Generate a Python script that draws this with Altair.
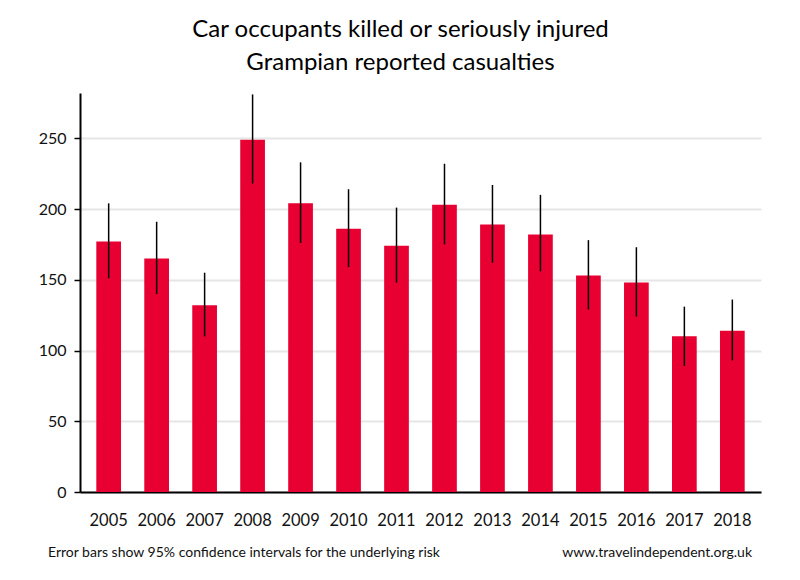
import altair as alt
import pandas as pd

years = ["2005", "2006", "2007", "2008", "2009", "2010", "2011",
         "2012", "2013", "2014", "2015", "2016", "2017", "2018"]
values = [177, 165, 132, 249, 204, 186, 174, 203, 189, 182, 153, 148, 110, 114]
err_low = [151, 140, 110, 218, 176, 159, 148, 175, 162, 156, 129, 124, 89, 93]
err_high = [204, 191, 155, 281, 233, 214, 201, 232, 217, 210, 178, 173, 131, 136]

df = pd.DataFrame({"year": years, "value": values, "lo": err_low, "hi": err_high})

FONT = "Lato"
W, H = 681, 399

x_enc = alt.X("year:N", sort=years, title=None,
              scale=alt.Scale(paddingInner=0.485, paddingOuter=0.34),
              axis=alt.Axis(labelAngle=0, labelFontSize=16.5, labelColor="#111",
                            labelFont=FONT, ticks=False, labelPadding=20,
                            domainColor="black", domainWidth=2, grid=False))
y_scale = alt.Scale(domain=[0, 282], nice=False)

bars = alt.Chart(df).mark_bar(color="#E80032").encode(
    x=x_enc,
    y=alt.Y("value:Q", scale=y_scale, title=None,
            axis=alt.Axis(values=[0, 50, 100, 150, 200, 250], labelFontSize=16,
                          labelFont=FONT, labelColor="#111", tickColor="black",
                          tickSize=6, tickWidth=1.5, labelPadding=8,
                          domainColor="black", domainWidth=2,
                          grid=True, gridColor="#e6e6e6", gridWidth=2)),
)

errs = alt.Chart(df).mark_rule(color="black", strokeWidth=1.5).encode(
    x=alt.X("year:N", sort=years),
    y=alt.Y("lo:Q", scale=y_scale),
    y2="hi:Q",
)

foot_left = alt.Chart(pd.DataFrame({"t": ["Error bars show 95% confidence intervals for the underlying risk"]})).mark_text(
    align="left", baseline="middle", fontSize=14, font=FONT, color="#111"
).encode(x=alt.value(-32), y=alt.value(460), text="t:N")

foot_right = alt.Chart(pd.DataFrame({"t": ["www.travelindependent.org.uk"]})).mark_text(
    align="right", baseline="middle", fontSize=14, font=FONT, color="#111"
).encode(x=alt.value(672), y=alt.value(460), text="t:N")

chart = alt.layer(bars, errs, foot_left, foot_right).properties(
    width=W, height=H,
    title=alt.TitleParams(
        text=["Car occupants killed or seriously injured", "Grampian reported casualties"],
        fontSize=24, font=FONT, fontWeight="normal", color="black",
        anchor="middle", dx=-20, lineHeight=33, offset=18),
    autosize=alt.AutoSizeParams(type="none"),
    padding={"left": 72, "top": 85, "right": 30, "bottom": 70},
).configure(background="white").configure_view(stroke=None)

chart.save("out.html", embed_options={"renderer": "svg", "actions": False})
